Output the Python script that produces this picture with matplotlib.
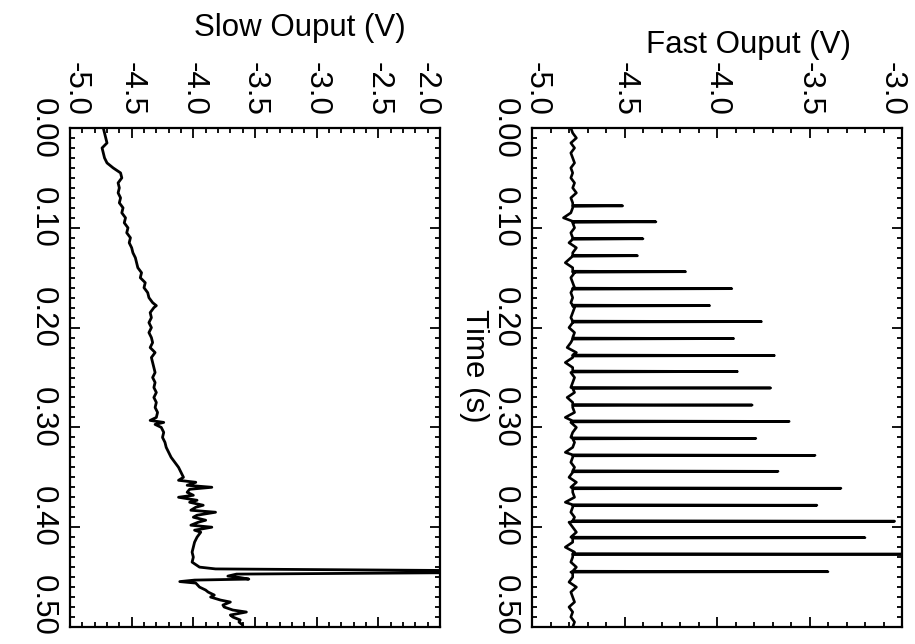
import matplotlib
matplotlib.use("Agg")
import matplotlib.pyplot as plt
from matplotlib.ticker import FixedLocator, MultipleLocator, FormatStrFormatter
from matplotlib.transforms import ScaledTranslation

plt.rcParams['font.family'] = ['Liberation Sans', 'DejaVu Sans']
plt.rcParams['axes.unicode_minus'] = False

# ---------------- data ----------------
time_ticks = [0.0, 0.1, 0.2, 0.3, 0.4, 0.5]
slow_volt_ticks = [-5.0, -4.5, -4.0, -3.5, -3.0, -2.5, -2.0]
fast_volt_ticks = [-5.0, -4.5, -4.0, -3.5, -3.0]

slow_time = [0.000, 0.005, 0.010, 0.015, 0.020, 0.025, 0.030, 0.035, 0.040, 0.045,
             0.050, 0.055, 0.060, 0.065, 0.070, 0.075, 0.080, 0.085, 0.090, 0.095,
             0.100, 0.105, 0.110, 0.115, 0.120, 0.125, 0.130, 0.135, 0.140, 0.145,
             0.150, 0.155, 0.160, 0.165, 0.170, 0.175, 0.178, 0.180, 0.185, 0.190,
             0.195, 0.200, 0.205, 0.210, 0.215, 0.220, 0.225, 0.230, 0.235, 0.240,
             0.245, 0.250, 0.255, 0.260, 0.265, 0.270, 0.275, 0.280, 0.285, 0.290,
             0.293, 0.295, 0.297, 0.300, 0.305, 0.310, 0.315, 0.320, 0.325, 0.330,
             0.335, 0.340, 0.345, 0.350, 0.353, 0.355, 0.358, 0.360, 0.362, 0.365,
             0.368, 0.370, 0.373, 0.375, 0.378, 0.380, 0.383, 0.385, 0.388, 0.390,
             0.393, 0.395, 0.398, 0.400, 0.403, 0.405, 0.410, 0.415, 0.420, 0.425,
             0.430, 0.435, 0.440, 0.4418, 0.4435, 0.4455, 0.4470, 0.4490, 0.4505, 0.4520,
             0.4530, 0.4545, 0.4560, 0.460, 0.463, 0.465, 0.468, 0.470, 0.473, 0.475,
             0.478, 0.480, 0.483, 0.485, 0.488, 0.490, 0.493, 0.495, 0.498, 0.500]
slow_volts = [-4.73, -4.72, -4.71, -4.70, -4.74, -4.73, -4.72, -4.70, -4.65, -4.59,
              -4.58, -4.61, -4.60, -4.61, -4.59, -4.60, -4.57, -4.58, -4.55, -4.56,
              -4.53, -4.54, -4.51, -4.52, -4.50, -4.49, -4.47, -4.46, -4.45, -4.42,
              -4.43, -4.39, -4.40, -4.37, -4.36, -4.33, -4.30, -4.32, -4.35, -4.34,
              -4.36, -4.34, -4.36, -4.34, -4.33, -4.35, -4.31, -4.34, -4.33, -4.32,
              -4.31, -4.33, -4.31, -4.32, -4.30, -4.32, -4.30, -4.31, -4.29, -4.30,
              -4.35, -4.24, -4.31, -4.26, -4.24, -4.25, -4.23, -4.22, -4.20, -4.18,
              -4.15, -4.12, -4.10, -4.08, -4.12, -3.98, -4.05, -3.85, -4.03, -4.05,
              -4.00, -4.12, -3.97, -4.03, -3.92, -3.98, -4.02, -3.82, -3.97, -4.00,
              -3.90, -3.96, -4.02, -3.85, -3.99, -3.94, -3.97, -3.99, -4.00, -4.01,
              -4.00, -4.01, -3.95, -3.82, -1.80, -1.80, -3.65, -3.72, -3.62, -3.55,
              -3.99, -4.11, -3.98, -3.95, -3.90, -3.88, -3.83, -3.86, -3.78, -3.70,
              -3.76, -3.75, -3.68, -3.57, -3.70, -3.68, -3.62, -3.63, -3.60, -3.60]

fast_base_time = [0.000, 0.005, 0.010, 0.015, 0.020, 0.025, 0.030, 0.035, 0.040, 0.045,
                  0.050, 0.055, 0.060, 0.065, 0.070, 0.075, 0.080, 0.085, 0.090, 0.095,
                  0.100, 0.105, 0.110, 0.115, 0.120, 0.125, 0.130, 0.135, 0.140, 0.145,
                  0.150, 0.155, 0.160, 0.165, 0.170, 0.175, 0.180, 0.185, 0.190, 0.195,
                  0.200, 0.205, 0.210, 0.215, 0.220, 0.225, 0.230, 0.235, 0.240, 0.245,
                  0.250, 0.255, 0.260, 0.265, 0.270, 0.275, 0.280, 0.285, 0.290, 0.295,
                  0.300, 0.305, 0.310, 0.315, 0.320, 0.325, 0.330, 0.335, 0.340, 0.345,
                  0.350, 0.355, 0.360, 0.365, 0.370, 0.375, 0.380, 0.385, 0.390, 0.395,
                  0.400, 0.405, 0.410, 0.415, 0.420, 0.425, 0.430, 0.435, 0.440, 0.445,
                  0.450, 0.455, 0.460, 0.465, 0.470, 0.475, 0.480, 0.485, 0.490, 0.495,
                  0.500]
fast_base_volts = [-4.79, -4.78, -4.76, -4.79, -4.77, -4.79, -4.78, -4.77, -4.79, -4.78,
                   -4.79, -4.77, -4.78, -4.76, -4.79, -4.78, -4.78, -4.79, -4.83, -4.78,
                   -4.77, -4.79, -4.78, -4.80, -4.76, -4.78, -4.79, -4.82, -4.78, -4.77,
                   -4.79, -4.78, -4.77, -4.79, -4.78, -4.79, -4.77, -4.78, -4.79, -4.78,
                   -4.80, -4.77, -4.78, -4.79, -4.81, -4.76, -4.78, -4.82, -4.78, -4.79,
                   -4.77, -4.78, -4.79, -4.77, -4.81, -4.78, -4.78, -4.77, -4.82, -4.79,
                   -4.76, -4.78, -4.79, -4.77, -4.78, -4.82, -4.78, -4.79, -4.77, -4.78,
                   -4.80, -4.76, -4.79, -4.78, -4.77, -4.82, -4.78, -4.79, -4.77, -4.80,
                   -4.78, -4.76, -4.79, -4.78, -4.82, -4.77, -4.78, -4.79, -4.76, -4.79,
                   -4.78, -4.80, -4.76, -4.79, -4.78, -4.77, -4.80, -4.78, -4.79, -4.77,
                   -4.78]
spike_time = [0.078, 0.094, 0.111, 0.128, 0.144, 0.161, 0.178, 0.194, 0.211, 0.228,
              0.244, 0.2605, 0.2776, 0.294, 0.311, 0.328, 0.344, 0.361, 0.378, 0.394,
              0.4105, 0.427, 0.4446]
spike_peak = [-4.51, -4.33, -4.40, -4.43, -4.17, -3.92, -4.04, -3.76, -3.91, -3.69,
              -3.89, -3.71, -3.81, -3.61, -3.79, -3.47, -3.67, -3.33, -3.46, -3.04,
              -3.20, -2.90, -3.40]

# ------------- build fast trace -------------
pts = list(zip(fast_base_time, fast_base_volts))
for ts, pk in zip(spike_time, spike_peak):
    pts += [(ts - 0.0005, -4.78), (ts, pk), (ts + 0.0005, -4.78)]
pts.sort()
fast_time = [p[0] for p in pts]
fast_volts = [p[1] for p in pts]

W, H = 915, 644
fig = plt.figure(figsize=(W / 100, H / 100), dpi=100)

def px_axes(x0, y0, x1, y1):
    return fig.add_axes([x0 / W, 1 - y1 / H, (x1 - x0) / W, (y1 - y0) / H])

FS = 22.5

def style(ax, xlim, xticks, x_shift_first, x_shift_last):
    ax.set_xlim(*xlim)
    ax.set_ylim(0.5, 0.0)
    ax.xaxis.set_major_locator(FixedLocator(xticks))
    ax.xaxis.set_minor_locator(MultipleLocator(0.1))
    ax.yaxis.set_major_locator(FixedLocator(time_ticks))
    ax.yaxis.set_minor_locator(MultipleLocator(0.01))
    ax.xaxis.set_major_formatter(FormatStrFormatter('%.1f'))
    ax.yaxis.set_major_formatter(FormatStrFormatter('%.2f'))
    ax.xaxis.set_ticks_position('both')
    ax.yaxis.set_ticks_position('both')
    ax.tick_params(which='both', direction='in', width=1.3, colors='black')
    ax.tick_params(which='major', length=7)
    ax.tick_params(which='minor', length=3.5)
    ax.tick_params(axis='x', labeltop=True, labelbottom=False, labelsize=FS,
                   labelrotation=-90, pad=9)
    ax.tick_params(axis='y', labelleft=True, labelright=False, labelsize=FS,
                   labelrotation=-90, pad=9)
    for sp in ax.spines.values():
        sp.set_linewidth(1.6)
    # create all ticks, then nudge labels like the reference
    xt = ax.xaxis.get_major_ticks(len(xticks))
    yt = ax.yaxis.get_major_ticks(len(time_ticks))
    for t in yt:
        t.label1.set_va('center')
    def nudge(lab, dx, dy):
        lab.set_transform(lab.get_transform() +
                          ScaledTranslation(dx / 100, dy / 100, fig.dpi_scale_trans))
    nudge(xt[0].label2, x_shift_first, 0)
    nudge(xt[-1].label2, x_shift_last, 0)
    y_shifts = [0, 10, 10, 10, 11, 22]
    for t, dy in zip(yt, y_shifts):
        nudge(t.label1, 0, dy)

ax1 = px_axes(70, 128, 440, 627)
ax1.plot(slow_volts, slow_time, color='black', lw=2.0, clip_on=True)
style(ax1, (-5.0, -2.0), slow_volt_ticks, 6, -14)

ax2 = px_axes(532, 128, 902, 627)
ax2.plot(fast_volts, fast_time, color='black', lw=1.9, clip_on=True)
style(ax2, (-5.0, -3.0), fast_volt_ticks, 5, -10)

fig.text(300 / W, 1 - 28 / H, 'Slow Ouput (V)', ha='center', va='center', fontsize=FS)
fig.text(748 / W, 1 - 45 / H, 'Fast Ouput (V)', ha='center', va='center', fontsize=FS)
fig.text(474 / W, 1 - 366 / H, 'Time (s)', ha='center', va='center', fontsize=FS, rotation=-90)

fig.savefig('out.png', dpi=100, facecolor='white')
